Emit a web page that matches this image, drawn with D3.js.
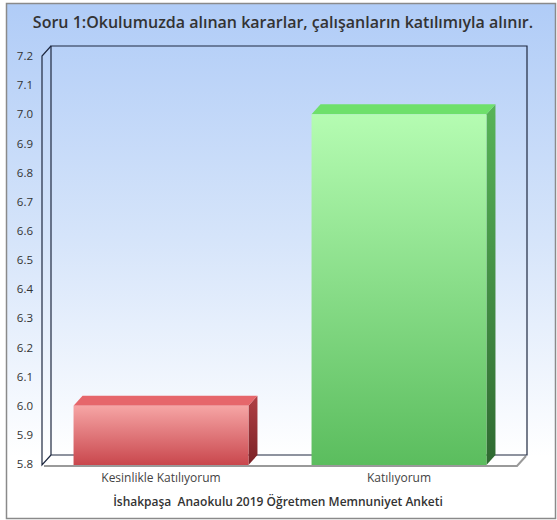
<!DOCTYPE html>
<html>
<head>
<meta charset="utf-8">
<script src="https://cdn.jsdelivr.net/npm/d3@7"></script>
<style>
  body { margin: 0; background: #fff; }
  svg { display: block; }
</style>
</head>
<body>
<svg id="chart" width="557" height="520"></svg>
<script>
// chart data
var categories = ["Kesinlikle Katılıyorum", "Katılıyorum"];
var values = [6.0, 7.0];
var yTicks = [5.8, 5.9, 6.0, 6.1, 6.2, 6.3, 6.4, 6.5, 6.6, 6.7, 6.8, 6.9, 7.0, 7.1, 7.2];
var titleText = "Soru 1:Okulumuzda alınan kararlar, çalışanların katılımıyla alınır.";
var xTitle = "İshakpaşa  Anaokulu 2019 Öğretmen Memnuniyet Anketi";

var barColors = [
    { top: "#e6666b", frontA: "#f6a5a5", frontB: "#c9474d", sideA: "#b03f44", sideB: "#7a2226" },
    { top: "#6ee06b", frontA: "#b5fcb2", frontB: "#5bbd5e", sideA: "#58b458", sideB: "#2f6a31" }
];

var svg = d3.select("#chart");
var defs = svg.append("defs");

// background gradient
var bg = defs.append("linearGradient").attr("id", "bgGrad")
    .attr("x1", 0).attr("y1", 0).attr("x2", 0).attr("y2", 1);
bg.append("stop").attr("offset", "0%").attr("stop-color", "#b0ccf7");
bg.append("stop").attr("offset", "45%").attr("stop-color", "#d5e4fa");
bg.append("stop").attr("offset", "88%").attr("stop-color", "#ffffff");

barColors.forEach(function(c, i) {
    var f = defs.append("linearGradient").attr("id", "front" + i)
        .attr("x1", 0).attr("y1", 0).attr("x2", 0).attr("y2", 1);
    f.append("stop").attr("offset", "0%").attr("stop-color", c.frontA);
    f.append("stop").attr("offset", "100%").attr("stop-color", c.frontB);
    var s = defs.append("linearGradient").attr("id", "side" + i)
        .attr("x1", 0).attr("y1", 0).attr("x2", 0).attr("y2", 1);
    s.append("stop").attr("offset", "0%").attr("stop-color", c.sideA);
    s.append("stop").attr("offset", "100%").attr("stop-color", c.sideB);
});

// outer frame
svg.append("rect")
    .attr("x", 6.5).attr("y", 3.5)
    .attr("width", 549).attr("height", 515)
    .style("fill", "url(#bgGrad)")
    .style("stroke", "#8a8a8a")
    .style("stroke-width", 1.5);

// geometry
var pLeft = 42, pRight = 518, pTop = 56, pBottom = 465;
var dx = 9, dy = 10;

var yScale = d3.scaleLinear().domain([5.8, 7.2]).range([464, pTop]);
var xScale = d3.scaleBand().domain(categories).range([pLeft, pRight])
    .paddingInner(0.265).paddingOuter(0.1325);

// title
svg.append("text")
    .attr("x", 283)
    .attr("y", 28)
    .attr("text-anchor", "middle")
    .style("font-family", "Open Sans")
    .style("font-weight", "600")
    .style("font-size", "16px")
    .style("fill", "#333")
    .text(titleText);

var wallStroke = "#1e2840";

// floor
svg.append("path")
    .attr("d", "M" + pLeft + "," + pBottom + " L" + pRight + "," + pBottom +
        " L" + (pRight + dx) + "," + (pBottom - dy) + " L" + (pLeft + dx) + "," + (pBottom - dy) + " Z")
    .style("fill", "#ffffff")
    .style("stroke", "none");
// floor shadow edge
svg.append("path")
    .attr("d", "M" + (pLeft + 2) + "," + (pBottom + 1) + " L" + (pRight - 1) + "," + (pBottom + 1) +
        " L" + (pRight + dx - 1) + "," + (pBottom - dy + 1))
    .style("fill", "none")
    .style("stroke", "#9a9a9a")
    .style("stroke-width", 2);

// back wall + left wall outline
svg.append("path")
    .attr("d", "M" + (pLeft + dx) + "," + (pBottom - dy) + " L" + (pLeft + dx) + "," + (pTop - dy) +
        " L" + (pRight + dx) + "," + (pTop - dy) + " L" + (pRight + dx) + "," + (pBottom - dy) +
        " L" + (pLeft + dx) + "," + (pBottom - dy))
    .style("fill", "none")
    .style("stroke", wallStroke)
    .style("stroke-width", 1.2);
svg.append("path")
    .attr("d", "M" + (pLeft + dx) + "," + (pTop - dy) + " L" + pLeft + "," + pTop +
        " L" + pLeft + "," + pBottom + " L" + (pLeft + dx) + "," + (pBottom - dy))
    .style("fill", "none")
    .style("stroke", wallStroke)
    .style("stroke-width", 1.2);

// y tick labels
var yAxis = d3.axisLeft(yScale).tickValues(yTicks).tickFormat(d3.format(".1f")).tickSize(0).tickPadding(0);
var ya = svg.append("g").attr("transform", "translate(33,0)").call(yAxis);
ya.select(".domain").remove();
ya.selectAll("text")
    .style("font-family", "Open Sans")
    .style("font-size", "11.5px")
    .style("fill", "#333");

// bars
var bars = svg.append("g").selectAll("g").data(values).enter().append("g");
bars.each(function(v, i) {
    var g = d3.select(this);
    var x0 = xScale(categories[i]);
    var w = xScale.bandwidth();
    var yTop = yScale(v);
    // side
    g.append("path")
        .attr("d", "M" + (x0 + w) + "," + yTop + " L" + (x0 + w + dx) + "," + (yTop - dy) +
            " L" + (x0 + w + dx) + "," + (pBottom - dy) + " L" + (x0 + w) + "," + pBottom + " Z")
        .style("fill", "url(#side" + i + ")");
    // top
    g.append("path")
        .attr("d", "M" + x0 + "," + yTop + " L" + (x0 + dx) + "," + (yTop - dy) +
            " L" + (x0 + w + dx) + "," + (yTop - dy) + " L" + (x0 + w) + "," + yTop + " Z")
        .style("fill", barColors[i].top);
    // front
    g.append("rect")
        .attr("x", x0).attr("y", yTop)
        .attr("width", w).attr("height", pBottom - yTop)
        .style("fill", "url(#front" + i + ")");
});

// category labels
var xAxis = d3.axisBottom(xScale).tickSize(0).tickPadding(0);
var xa = svg.append("g").attr("transform", "translate(0,473)").call(xAxis);
xa.select(".domain").remove();
xa.selectAll("text")
    .style("font-family", "Open Sans")
    .style("font-size", "12px")
    .style("fill", "#444");

// x title
svg.append("text")
    .attr("x", 278)
    .attr("y", 506)
    .attr("text-anchor", "middle")
    .style("font-family", "Open Sans")
    .style("font-weight", "600")
    .style("font-size", "12px")
    .style("white-space", "pre")
    .style("fill", "#333")
    .text(xTitle);
</script>
</body>
</html>
